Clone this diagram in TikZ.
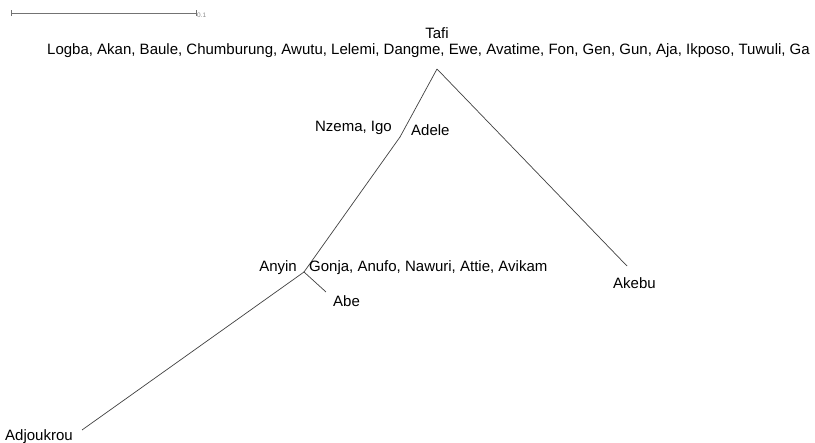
\documentclass[tikz,border=0pt]{standalone}
\usepackage{fontspec}
\setmainfont{Liberation Sans}
\begin{document}
\begin{tikzpicture}[x=1pt,y=-1pt,
  lbl/.style={inner sep=0pt,font=\fontsize{15}{17}\selectfont,text=black},
  br/.style={draw=black!75,line width=0.7pt},
  scalebar/.style={draw=black!55,line width=0.8pt}]
\useasboundingbox (0,0) rectangle (815,443);
% scale bar
\coordinate (s1) at (11,13);
\coordinate (s2) at (196,13);
\draw[scalebar] (s1) -- (s2);
\draw[scalebar] ([yshift=-3pt]s1) -- ([yshift=3pt]s1);
\draw[scalebar] ([yshift=-3pt]s2) -- ([yshift=3pt]s2);
\node[inner sep=0pt,anchor=west,text=black!45,font=\fontsize{6.5}{7}\selectfont] (sl) at (197,15) {0.1};
% tree nodes
\coordinate (top) at (437,69);
\coordinate (n1) at (400,137);
\coordinate (n2) at (304,272);
\coordinate (akebu) at (627,266);
\coordinate (abe) at (326,292);
\coordinate (adj) at (82,430);
\draw[br] (top) -- (n1);
\draw[br] (n1) -- (n2);
\draw[br] (top) -- (akebu);
\draw[br] (n2) -- (abe);
\draw[br] (n2) -- (adj);
% labels
\node[lbl] (tafi) at (437,33) {Tafi};
\node[lbl,anchor=west] (logba) at (47,51) {Logba, Akan, Baule, Chumburung, Awutu, Lelemi, Dangme, Ewe, Avatime, Fon, Gen, Gun, Aja, Ikposo, Tuwuli, Ga};
\node[lbl,anchor=east] (nzema) at (392,128) {Nzema, Igo};
\node[lbl,anchor=west] (adele) at (411,130) {Adele};
\node[lbl,anchor=east] (anyin) at (297,268) {Anyin};
\node[lbl,anchor=west] (gonja) at (309,268) {Gonja, Anufo, Nawuri, Attie, Avikam};
\node[lbl,anchor=west] (abel) at (333,301) {Abe};
\node[lbl,anchor=west] (akebul) at (613,283) {Akebu};
\node[lbl,anchor=west] (adjl) at (5,437) {Adjoukrou};
\end{tikzpicture}
\end{document}
